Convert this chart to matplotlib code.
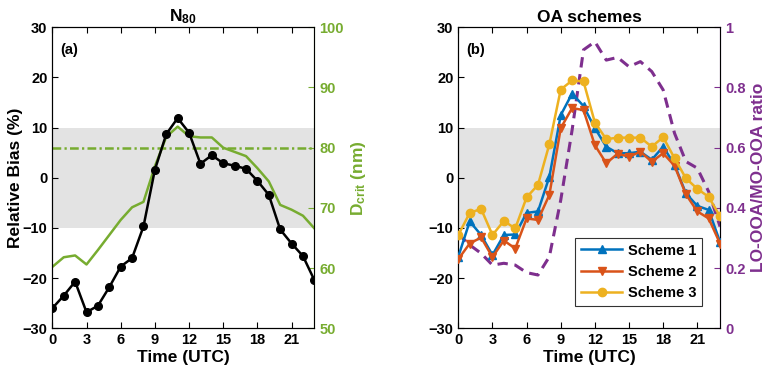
import matplotlib
matplotlib.use("Agg")
import matplotlib.pyplot as plt
import matplotlib.transforms as mtransforms
from matplotlib.patches import Rectangle
import numpy as np

plt.rcParams['font.family'] = ['Liberation Sans', 'DejaVu Sans']
plt.rcParams['font.weight'] = 'bold'
plt.rcParams['mathtext.fontset'] = 'custom'
plt.rcParams['mathtext.rm'] = 'Liberation Sans:bold'
plt.rcParams['mathtext.it'] = 'Liberation Sans:bold'
plt.rcParams['mathtext.bf'] = 'Liberation Sans:bold'

hours = np.arange(24)

bias_n80 = [-26.0, -23.5, -20.7, -26.8, -25.5, -21.8, -17.7, -16.0, -9.7, 1.6, 8.7, 11.9,
            9.0, 2.8, 4.5, 2.9, 2.4, 1.8, -0.6, -3.4, -10.3, -13.1, -15.6, -20.4]
dcrit = [60.2, 61.8, 62.1, 60.6, 63.0, 65.5, 68.0, 70.1, 71.0, 76.9, 81.8, 83.5,
         81.9, 81.7, 81.7, 80.0, 79.3, 78.6, 76.6, 74.4, 70.5, 69.7, 68.7, 66.6]
dcrit_ref = 80

scheme1 = [-15.7, -8.7, -11.4, -15.4, -11.4, -11.3, -7.0, -6.7, 0.2, 12.5, 16.8, 14.3,
           9.9, 6.2, 4.9, 4.9, 5.2, 3.6, 6.2, 2.6, -3.1, -5.6, -6.4, -12.8]
scheme2 = [-16.2, -13.1, -11.9, -15.8, -12.5, -14.1, -8.1, -8.4, -3.4, 9.9, 13.9, 13.5,
           6.5, 2.9, 4.8, 4.2, 5.2, 3.2, 4.9, 2.4, -3.3, -6.7, -8.1, -13.1]
scheme3 = [-11.4, -7.0, -6.2, -11.4, -8.6, -10.1, -3.9, -1.4, 6.7, 17.6, 19.4, 19.2,
           11.0, 7.7, 8.0, 8.0, 8.0, 6.2, 8.1, 3.9, -0.1, -2.2, -3.8, -7.7]
ratio = [0.313, 0.277, 0.249, 0.210, 0.216, 0.210, 0.185, 0.177, 0.238, 0.426, 0.659, 0.925,
         0.952, 0.891, 0.900, 0.869, 0.886, 0.853, 0.792, 0.648, 0.554, 0.532, 0.454, 0.338]

band_lo, band_hi = -10, 10
xticks = [0, 3, 6, 9, 12, 15, 18, 21]

green = '#77AC30'
purple = '#7E2F8E'
c1, c2, c3 = '#0072BD', '#D95319', '#EDB120'
band = '#E3E3E3'

fig = plt.figure(figsize=(7.72, 3.77), dpi=100)
ax1 = fig.add_axes([0.0678, 0.1292, 0.3394, 0.7984])
ax2 = fig.add_axes([0.5937, 0.1292, 0.3390, 0.7984])

def style_left(ax):
    ax.set_xlim(0, 23)
    ax.set_ylim(-30, 30)
    ax.set_xticks(xticks)
    ax.set_yticks([-30, -20, -10, 0, 10, 20, 30])
    ax.tick_params(axis='both', direction='in', labelsize=10.5, top=True, length=4)
    ax.tick_params(axis='y', right=False)
    ax.set_xlabel('Time (UTC)', fontsize=12.5, fontweight='bold', labelpad=2)
    for lbl in ax.get_xticklabels() + ax.get_yticklabels():
        lbl.set_fontweight('bold')

def add_band(ax_main, ax_twin):
    tr = mtransforms.blended_transform_factory(ax_twin.transAxes, ax_main.transData)
    ax_twin.add_patch(Rectangle((0, band_lo), 1, band_hi - band_lo, transform=tr,
                                facecolor=band, edgecolor='none', zorder=0))

# Panel (a)
style_left(ax1)
ax1.set_ylabel('Relative Bias (%)', fontsize=12.5, fontweight='bold', labelpad=0)
ax1.set_title('N$_{80}$', fontsize=12.5, fontweight='bold', pad=4)
ax1.text(0.03, 0.925, '(a)', transform=ax1.transAxes, fontsize=10.5, fontweight='bold', va='center')
ax1b = ax1.twinx()
ax1b.set_ylim(50, 100)
ax1b.set_yticks([50, 60, 70, 80, 90, 100])
add_band(ax1, ax1b)
ax1b.plot(hours, dcrit, color=green, lw=1.8, zorder=2)
ax1b.axhline(dcrit_ref, color=green, lw=1.8, ls=(0, (3.5, 1.3, 0.9, 1.3)), zorder=2)
ax1b.tick_params(axis='y', direction='in', colors=green, labelsize=10.5, length=4)
ax1b.spines['right'].set_color(green)
ax1b.set_ylabel(r'D$_{crit}$ (nm)', color=green, fontsize=12.5, fontweight='bold', labelpad=4)
for lbl in ax1b.get_yticklabels():
    lbl.set_fontweight('bold')
ax1.set_zorder(ax1b.get_zorder() + 1)
ax1.patch.set_visible(False)
ax1.plot(hours, bias_n80, color='black', lw=1.8, marker='o', ms=5.5, zorder=3)

# Panel (b)
style_left(ax2)
ax2.set_title('OA schemes', fontsize=12.5, fontweight='bold', pad=4)
ax2.text(0.03, 0.925, '(b)', transform=ax2.transAxes, fontsize=10.5, fontweight='bold', va='center')
ax2b = ax2.twinx()
ax2b.set_ylim(0, 1)
ax2b.set_yticks([0, 0.2, 0.4, 0.6, 0.8, 1])
ax2b.set_yticklabels(['0', '0.2', '0.4', '0.6', '0.8', '1'])
add_band(ax2, ax2b)
ax2b.plot(hours, ratio, color=purple, lw=2.2, ls=(0, (3.4, 2.2)), zorder=2)
ax2b.tick_params(axis='y', direction='in', colors=purple, labelsize=10.5, length=4)
ax2b.spines['right'].set_color(purple)
ax2b.set_ylabel('LO-OOA/MO-OOA ratio', color=purple, fontsize=12.5, fontweight='bold', labelpad=4)
for lbl in ax2b.get_yticklabels():
    lbl.set_fontweight('bold')
ax2.set_zorder(ax2b.get_zorder() + 1)
ax2.patch.set_visible(False)

l1, = ax2.plot(hours, scheme1, color=c1, lw=1.8, marker='^', ms=6, label='Scheme 1', zorder=3)
l2, = ax2.plot(hours, scheme2, color=c2, lw=1.8, marker='v', ms=6, label='Scheme 2', zorder=3)
l3, = ax2.plot(hours, scheme3, color=c3, lw=1.8, marker='o', ms=6, label='Scheme 3', zorder=3)
leg = ax2.legend(handles=[l1, l2, l3], loc='lower right', bbox_to_anchor=(0.96, 0.05),
                 fontsize=10.5, frameon=True, fancybox=False, edgecolor='black',
                 handlelength=2.8, borderpad=0.4, labelspacing=0.5, handletextpad=0.4)
leg.get_frame().set_linewidth(0.8)
for t in leg.get_texts():
    t.set_fontweight('bold')

fig.savefig('out.png', dpi=100)
